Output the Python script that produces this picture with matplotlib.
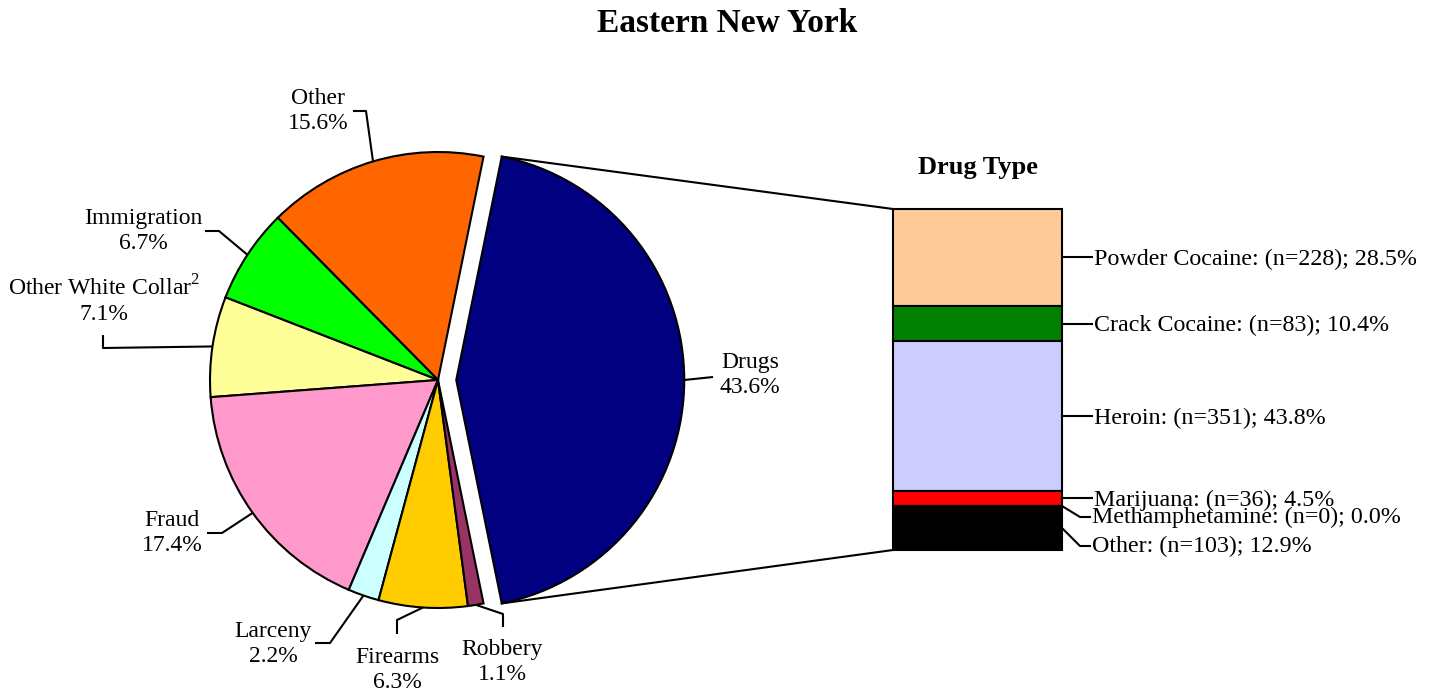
import numpy as np
import matplotlib
matplotlib.use("Agg")
import matplotlib.pyplot as plt

# ---------------- data ----------------
pie_labels = ["Drugs", "Other", "Immigration", "Other White Collar$^{\\mathrm{2}}$",
              "Fraud", "Larceny", "Firearms", "Robbery"]
pie_values = [43.6, 15.6, 6.7, 7.1, 17.4, 2.2, 6.3, 1.1]
pie_colors = ["#000080", "#FF6600", "#00FF00", "#FFFF99",
              "#FF99CC", "#CCFFFF", "#FFCC00", "#993366"]

drug_types = ["Powder Cocaine", "Crack Cocaine", "Heroin", "Marijuana",
              "Methamphetamine", "Other"]
drug_counts = [228, 83, 351, 36, 0, 103]
drug_pcts = [28.5, 10.4, 43.8, 4.5, 0.0, 12.9]
drug_colors = ["#FFCC99", "#008000", "#CCCCFF", "#FF0000", "#FFFF00", "#000000"]

title = "Eastern New York"
bar_title = "Drug Type"

# ---------------- layout ----------------
W, H = 1434, 694
plt.rcParams['font.family'] = ['Liberation Serif', 'DejaVu Serif']
plt.rcParams['mathtext.fontset'] = 'custom'
plt.rcParams['mathtext.rm'] = 'Liberation Serif'
fig = plt.figure(figsize=(W / 100, H / 100), dpi=100)
ax = fig.add_axes([0, 0, 1, 1])


def P(x, y):
    return (x, H - y)


cx, cy = P(438, 380)
R = 228
explode = [0.08 * R] + [0] * (len(pie_values) - 1)
start = -pie_values[0] * 3.6 / 2
wedges, _ = ax.pie(pie_values, colors=pie_colors, startangle=start,
                   counterclock=True, explode=explode, center=(cx, cy),
                   radius=R, wedgeprops=dict(edgecolor="black", linewidth=1.5))

# label positions (text center) and leader elbow points in pixel coords
label_pos = [(750, 375), (318, 111), (143, 231), (104, 300),
             (172, 533), (273, 644), (397, 670), (502, 662)]
elbows = [[(713, 377)],
          [(353, 111), (366, 111)],
          [(205, 231), (219, 231)],
          [(103, 335), (103, 348)],
          [(207, 533), (222, 533)],
          [(315, 643), (330, 643)],
          [(397, 634), (397, 620)],
          [(503, 627), (503, 614)]]

FS = 17
for w, lab, val, pos, elb in zip(wedges, pie_labels, pie_values, label_pos, elbows):
    mid = np.deg2rad((w.theta1 + w.theta2) / 2)
    ex = w.center[0] + w.r * np.cos(mid)
    ey = w.center[1] + w.r * np.sin(mid)
    pts = [P(*p) for p in elb] + [(ex, ey)]
    ax.plot([p[0] for p in pts], [p[1] for p in pts], color="black", lw=1.5,
            solid_capstyle="butt")
    ax.text(*P(*pos), f"{lab}\n{val:.1f}%", ha="center", va="center",
            fontsize=FS, linespacing=1.2)

# ---------------- bar of pie ----------------
bx0, bx1 = 893, 1062
btop, bbot = 209, 550
scale = (bbot - btop) / 100.0
bottoms = []
heights = []
cum = H - bbot
for p in reversed(drug_pcts):
    bottoms.append(cum)
    heights.append(p * scale)
    cum += p * scale
bottoms = bottoms[::-1]
heights = heights[::-1]
ax.bar([(bx0 + bx1) / 2] * len(drug_pcts), heights, width=bx1 - bx0,
       bottom=bottoms, color=drug_colors, edgecolor="black", linewidth=1.5)

# connector lines from exploded slice to bar
dw = wedges[0]
for th, by in [(dw.theta2, H - btop), (dw.theta1, H - bbot)]:
    t = np.deg2rad(th)
    ax.plot([dw.center[0] + dw.r * np.cos(t), bx0], [dw.center[1] + dw.r * np.sin(t), by],
            color="black", lw=1.5)

# bar labels
bar_label_y = [260, 325, 418, 500, 517, 546]
for i, (name, n, p) in enumerate(zip(drug_types, drug_counts, drug_pcts)):
    mid = bottoms[i] + heights[i] / 2
    ly = H - bar_label_y[i]
    if i >= 4:
        pts = [(bx1, mid if heights[i] > 0 else bottoms[i] + heights[i]), (1080, ly), (1090, ly)]
    else:
        pts = [(bx1, mid), (1092, mid)]
        ly = mid - 2
    ax.plot([q[0] for q in pts], [q[1] for q in pts], color="black", lw=1.5)
    ax.text(pts[-1][0] + 2, ly, f"{name}: (n={n}); {p:.1f}%", ha="left",
            va="center", fontsize=17.3)

ax.text(*P(978, 167), bar_title, ha="center", va="center", fontsize=19,
        fontweight="bold")
ax.text(*P(727, 23), title, ha="center", va="center", fontsize=24,
        fontweight="bold")

ax.set_xlim(0, W)
ax.set_ylim(0, H)
ax.set_aspect("auto")
ax.axis("off")
fig.savefig("out.png", dpi=100)
